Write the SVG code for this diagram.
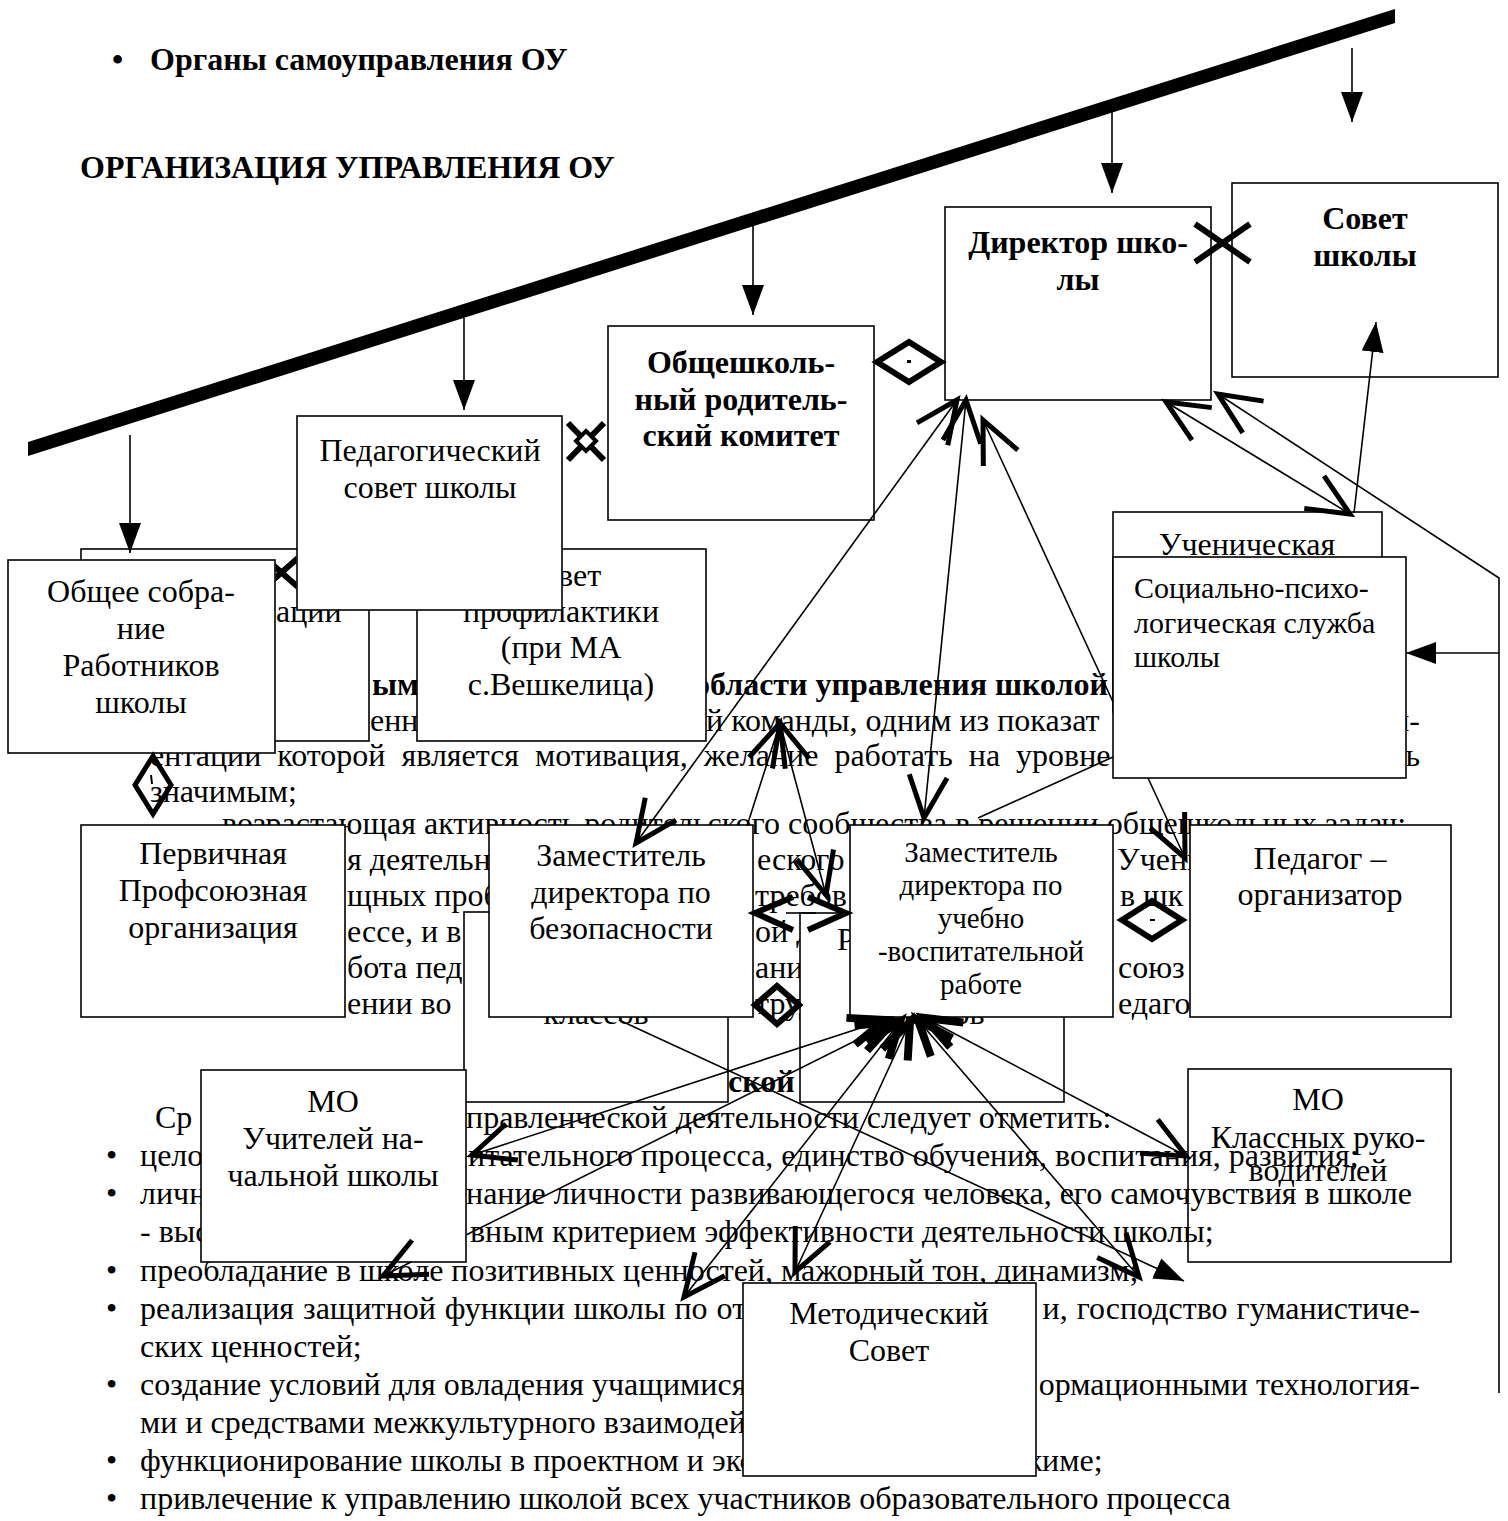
<svg xmlns="http://www.w3.org/2000/svg" width="1508" height="1521" viewBox="0 0 1508 1521">
<defs>
<style>
text{font-family:"Liberation Serif","Times New Roman",serif;font-size:32px;fill:#000}
.b{font-weight:bold}
.c{text-anchor:middle}
.e{text-anchor:end}
.s29{font-size:29px}
.s30{font-size:30px}
.box{fill:#fff;stroke:#000;stroke-width:1.6}
.nofill{fill:none;stroke:#000;stroke-width:1.6}
.ln{fill:none;stroke:#000;stroke-width:1.6}
.th{fill:none;stroke:#000;stroke-width:6}
.ar{marker-end:url(#tri)}
</style>
<marker id="tri" viewBox="0 0 30 22" refX="30" refY="11" markerWidth="30" markerHeight="22" markerUnits="userSpaceOnUse" orient="auto"><path d="M0,0L30,11L0,22z" fill="#000"/></marker>
<marker id="chev" viewBox="-50 -30 60 60" refX="0" refY="0" markerWidth="60" markerHeight="60" markerUnits="userSpaceOnUse" orient="auto-start-reverse"><path d="M-42,-19L0,0L-42,19" fill="none" stroke="#000" stroke-width="5"/></marker>
<marker id="chev2" viewBox="-45 -25 65 50" refX="0" refY="0" markerWidth="65" markerHeight="50" markerUnits="userSpaceOnUse" orient="auto-start-reverse"><path d="M-36,-14L0,0L-36,14" fill="none" stroke="#000" stroke-width="8"/></marker>
<clipPath id="gap"><rect x="275.5" y="550" width="21" height="45"/></clipPath>
</defs>
<rect width="1508" height="1521" fill="#fff"/>

<g id="headings">
<text x="112" y="70" class="b">•</text>
<text x="150" y="70" class="b">Органы самоуправления ОУ</text>
<text x="80" y="178" class="b">ОРГАНИЗАЦИЯ УПРАВЛЕНИЯ ОУ</text>
</g>

<g id="background-text">
<text x="372" y="695" class="b">ым</text>
<text x="694" y="695" class="b">области управления школой</text>
<text x="370" y="731">енн</text>
<text x="706" y="731">й команды, одним из показат</text>
<text x="1420" y="731" class="e">и-</text>
<text x="150" y="766" word-spacing="8">ентации которой является мотивация, желание работать на уровне</text>
<text x="1420" y="766" class="e">ь</text>
<text x="150" y="802">значимым;</text>
<text x="222" y="834">возрастающая активность родительского сообщества в решении общешкольных задач;</text>
<text x="347" y="870">я деятельн</text>
<text x="757" y="870">еского</text>
<text x="1117" y="870">Учени</text>
<text x="347" y="906">щных проб</text>
<text x="755" y="906">требов</text>
<text x="1120" y="906">в шк</text>
<text x="347" y="942">ессе, и в</text>
<text x="755" y="942">ой д</text>
<text x="347" y="978">бота педа</text>
<text x="755" y="978">ани</text>
<text x="1118" y="978">союз</text>
<text x="347" y="1014">ении   во</text>
<text x="755" y="1014">труд</text>
<text x="1118" y="1014">едаго</text>
<text x="728" y="1092" class="b">ской</text>
<text x="155" y="1128">Ср</text>
<text x="466" y="1128">правленческой деятельности следует отметить:</text>
<text x="106" y="1166">•</text>
<text x="140" y="1166">целос</text>
<text x="468" y="1166">итательного процесса, единство обучения, воспитания, развития;</text>
<text x="106" y="1204">•</text>
<text x="140" y="1204">личн</text>
<text x="466" y="1204">нание личности развивающегося человека, его самочувствия в школе</text>
<text x="140" y="1242">- выс</text>
<text x="470" y="1242">вным критерием эффективности деятельности школы;</text>
<text x="106" y="1281">•</text>
<text x="140" y="1281">преобладание в школе позитивных ценностей, мажорный тон, динамизм;</text>
<text x="106" y="1319">•</text>
<text x="140" y="1319" word-spacing="1">реализация защитной функции школы по от</text>
<text x="1420" y="1319" class="e" word-spacing="1">и, господство гуманистиче-</text>
<text x="140" y="1357">ских ценностей;</text>
<text x="106" y="1395">•</text>
<text x="140" y="1395">создание условий для овладения учащимися</text>
<text x="1420" y="1395" class="e">ормационными технология-</text>
<text x="140" y="1433">ми и средствами межкультурного взаимодейс</text>
<text x="106" y="1471">•</text>
<text x="140" y="1471">функционирование школы в проектном и эко</text>
<text x="1020" y="1471">жиме;</text>
<text x="106" y="1509">•</text>
<text x="140" y="1509">привлечение к управлению школой всех участников образовательного процесса</text>
</g>

<g id="n-attestacii"><rect class="box" x="81" y="549" width="288" height="192"/><text x="276" y="622">ации</text></g>
<g id="n-profilaktika"><rect class="box" x="417" y="549" width="289" height="192"/>
<text x="561" y="586" class="c">Совет</text><text x="561" y="622" class="c">профилактики</text><text x="561" y="658" class="c">(при МА</text><text x="561" y="695" class="c">с.Вешкелица)</text></g>
<g id="n-klassov"><rect class="box" x="464" y="912" width="264" height="190"/><text x="596" y="1024" class="c">классов</text></g>
<g id="n-r"><rect class="box" x="800" y="913" width="264" height="189"/><text x="837" y="950">Р</text><text x="932" y="1024" class="c">классов</text></g>
<g id="n-uchenich"><rect class="box" x="1113" y="512" width="269" height="200"/><text x="1247" y="555" class="c">Ученическая</text></g>

<g id="n-obshee"><rect class="box" x="8" y="560" width="267" height="193"/>
<text x="141" y="602" class="c">Общее собра-</text><text x="141" y="639" class="c">ние</text><text x="141" y="676" class="c">Работников</text><text x="141" y="713" class="c">школы</text></g>
<g id="n-pedsovet"><rect class="box" x="297" y="416" width="265" height="194"/>
<text x="430" y="461" class="c">Педагогический</text><text x="430" y="498" class="c">совет школы</text></g>
<g id="n-roditeli"><rect class="box" x="608" y="326" width="266" height="194"/>
<text x="741" y="373" class="c b">Общешколь-</text><text x="741" y="410" class="c b">ный родитель-</text><text x="741" y="446" class="c b">ский комитет</text></g>
<g id="n-director"><rect class="box" x="945" y="207" width="266" height="193"/>
<text x="1078" y="253" class="c b">Директор шко-</text><text x="1078" y="290" class="c b">лы</text></g>
<g id="n-sovet"><rect class="box" x="1232" y="183" width="266" height="194"/>
<text x="1365" y="229" class="c b">Совет</text><text x="1365" y="266" class="c b">школы</text></g>
<g id="n-socpsy"><rect class="box" x="1113" y="557" width="293" height="221"/>
<text x="1134" y="598" class="s30">Социально-психо-</text><text x="1134" y="633" class="s30">логическая служба</text><text x="1134" y="667" class="s30">школы</text></g>
<g id="n-pervichnaya"><rect class="box" x="81" y="825" width="264" height="192"/>
<text x="213" y="864" class="c">Первичная</text><text x="213" y="901" class="c">Профсоюзная</text><text x="213" y="938" class="c">организация</text></g>
<g id="n-zambez"><rect class="box" x="489" y="825" width="264" height="192"/>
<text x="621" y="866" class="c">Заместитель</text><text x="621" y="903" class="c">директора по</text><text x="621" y="939" class="c">безопасности</text></g>
<g id="n-zamuvr"><rect class="box" x="850" y="825" width="263" height="192"/>
<text x="981" y="862" class="c s29">Заместитель</text><text x="981" y="895" class="c s29">директора по</text><text x="981" y="928" class="c s29">учебно</text><text x="981" y="961" class="c s29">-воспитательной</text><text x="981" y="994" class="c s29">работе</text></g>
<g id="n-pedorg"><rect class="box" x="1190" y="825" width="261" height="192"/>
<text x="1320" y="869" class="c">Педагог –</text><text x="1320" y="905" class="c">организатор</text></g>
<g id="n-mo-nach"><rect class="box" x="201" y="1070" width="265" height="192"/>
<text x="333" y="1112" class="c">МО</text><text x="333" y="1149" class="c">Учителей на-</text><text x="333" y="1186" class="c">чальной школы</text></g>
<g id="n-mo-kl"><rect class="nofill" x="1188" y="1069" width="263" height="193"/>
<text x="1318" y="1110" class="c">МО</text><text x="1318" y="1148" class="c">Классных руко-</text><text x="1318" y="1181" class="c">водителей</text></g>
<g id="n-metod"><rect class="box" x="743" y="1283" width="293" height="193"/>
<text x="889" y="1324" class="c">Методический</text><text x="889" y="1361" class="c">Совет</text></g>

<g id="connectors">
<polygon points="28,442 1395,9 1395,23 28,456" fill="#000"/>
<line class="ln ar" x1="1352" y1="48" x2="1352" y2="122"/>
<line class="ln ar" x1="1112" y1="104" x2="1112" y2="193"/>
<line class="ln ar" x1="753" y1="224" x2="753" y2="315"/>
<line class="ln ar" x1="464" y1="318" x2="464" y2="410"/>
<line class="ln ar" x1="130" y1="435" x2="130" y2="553"/>

<g clip-path="url(#gap)"><path class="th" d="M265,558L298,587M265,587L298,558"/></g>
<path class="th" d="M568,423L604,460M568,460L604,423"/>
<path d="M586,431L596,441L586,451L576,441Z" fill="#fff" stroke="#000" stroke-width="4"/>
<path class="th" d="M1195,224L1250,262M1195,262L1250,224"/>
<path class="th" d="M877,362L909,342L941,362L909,382Z"/>
<rect x="907" y="360" width="4" height="3" fill="#000"/>
<path d="M153,756L171,785L153,814L135,785Z" fill="none" stroke="#000" stroke-width="5"/>
<line x1="151" y1="775" x2="152" y2="784" stroke="#000" stroke-width="2"/>
<path class="th" d="M1122,920L1152,901L1182,920L1152,939Z"/>
<rect x="1150" y="919" width="5" height="2" fill="#000"/>
<path class="th" d="M755,1005L777,986L799,1005L777,1024Z"/>

<line class="ln" x1="957" y1="400" x2="636" y2="843" marker-start="url(#chev)" marker-end="url(#chev)"/>
<line class="ln" x1="966" y1="400" x2="924" y2="818" marker-start="url(#chev)" marker-end="url(#chev)"/>
<line class="ln" x1="983" y1="420" x2="1113" y2="702" marker-start="url(#chev)"/>
<line class="ln" x1="1148" y1="778" x2="1185" y2="858" marker-end="url(#chev)"/>
<line class="ln" x1="747" y1="826" x2="780" y2="723" marker-end="url(#chev)"/>
<line class="ln" x1="780" y1="723" x2="826" y2="895" marker-start="url(#chev)" marker-end="url(#chev)"/>
<line class="ln" x1="978" y1="818" x2="1113" y2="757"/>
<polyline class="ln" points="1218,394 1499,578 1499,1393" marker-start="url(#chev)"/>
<line class="ln" x1="1166" y1="402" x2="1350" y2="514" marker-start="url(#chev)" marker-end="url(#chev)"/>
<line class="ln ar" x1="1354" y1="513" x2="1376" y2="322"/>
<line class="ln" x1="1499" y1="653" x2="1406" y2="653" marker-end="url(#tri)"/>

<line class="ln" x1="786" y1="913" x2="816" y2="913"/>
<path class="th" d="M793,897L755,913L793,930M808,897L846,913L808,930"/>

<line class="ln" x1="472" y1="1155" x2="885" y2="1020" marker-start="url(#chev)" marker-end="url(#chev2)"/>
<line class="ln" x1="383" y1="1276" x2="411" y2="1262" marker-start="url(#chev)"/>
<line class="ln" x1="466" y1="1235" x2="893" y2="1022" marker-end="url(#chev2)"/>
<line class="ln" x1="684" y1="1297" x2="900" y2="1022" marker-start="url(#chev)" marker-end="url(#chev2)"/>
<line class="ln" x1="795" y1="1272" x2="910" y2="1022" marker-start="url(#chev)" marker-end="url(#chev2)"/>
<line class="ln" x1="1139" y1="1277" x2="918" y2="1020" marker-start="url(#chev)" marker-end="url(#chev2)"/>
<line class="ln" x1="1186" y1="1156" x2="925" y2="1018" marker-start="url(#chev)" marker-end="url(#chev2)"/>
<line class="ln ar" x1="619" y1="1020" x2="1184" y2="1281"/>
</g>
</svg>
